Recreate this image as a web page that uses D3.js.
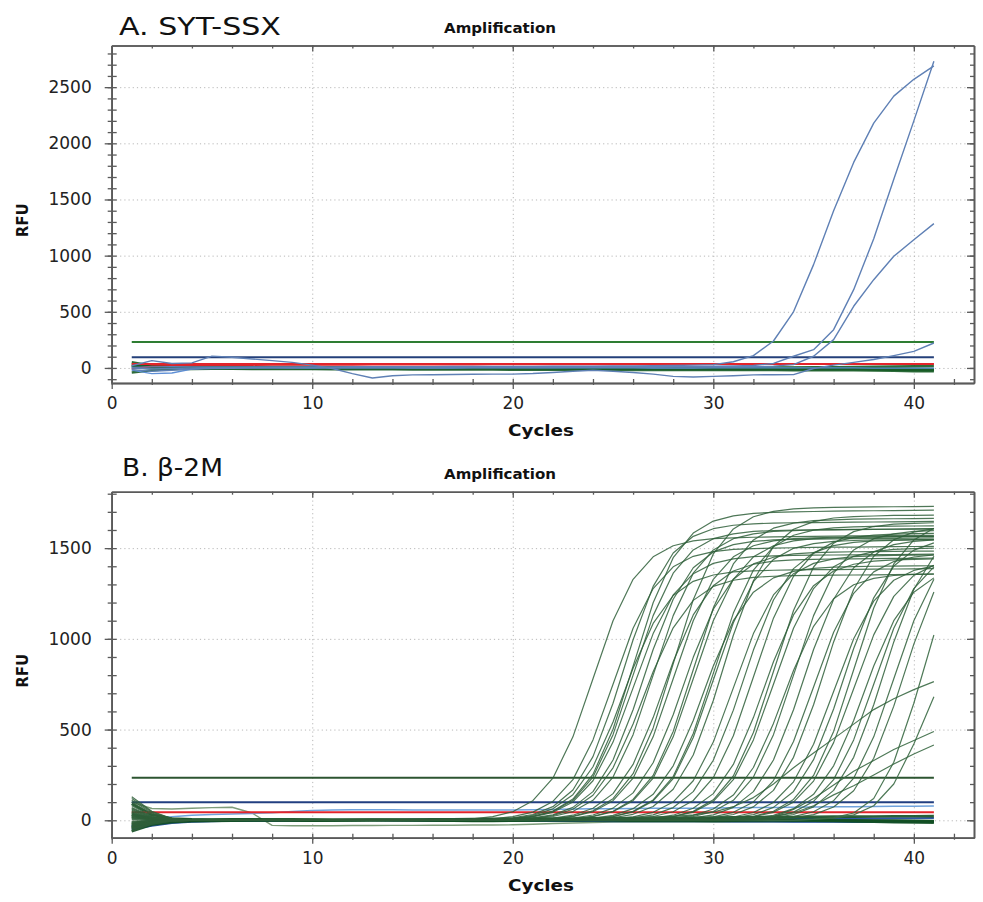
<!DOCTYPE html>
<html><head><meta charset="utf-8">
<script src="https://cdn.jsdelivr.net/npm/d3@7"></script>
<style>body{margin:0;background:#fff}</style>
</head><body>
<svg id="c" width="983" height="902" xmlns="http://www.w3.org/2000/svg"></svg>
<script>
// ---------------- DATA ----------------
const cycles = [1,2,3,4,5,6,7,8,9,10,11,12,13,14,15,16,17,18,19,20,21,22,23,24,25,26,27,28,29,30,31,32,33,34,35,36,37,38,39,40,41];
const xTicks = [0,10,20,30,40];
const sytYTicks = [0,500,1000,1500,2000,2500];
const b2mYTicks = [0,500,1000,1500];

// Panel A: SYT-SSX thresholds and curves
const sytThresholds = [230, 95, 36];
const sytAmp = [
 [5,10,12,10,8,8,9,10,10,10,10,11,11,12,12,12,13,13,13,14,14,15,15,16,17,18,20,22,25,30,55,110,240,500,920,1400,1830,2180,2420,2570,2690],
 [0,-10,-5,0,2,3,4,5,5,5,5,5,6,6,6,6,7,7,7,8,8,8,9,9,10,10,11,12,13,15,18,22,40,104,163,341,697,1150,1680,2200,2730],
 [-15,-30,-20,-10,-5,-3,-2,-1,0,0,1,1,1,2,2,2,3,3,3,4,4,4,5,5,5,6,6,7,8,9,10,12,16,30,104,252,549,786,994,1142,1285],
 [20,65,40,45,105,95,80,65,50,25,-5,-50,-90,-70,-62,-60,-58,-56,-55,-55,-50,-40,-30,-20,-30,-40,-55,-75,-80,-75,-70,-62,-60,-59,-5,25,50,75,110,148,222],
 [-20,-50,-45,-10,0,2,3,3,2,2,1,1,0,0,-1,-1,-1,0,0,0,1,1,1,0,0,0,-1,-1,-1,0,0,0,1,1,1,0,0,-1,-1,-2,-2]
];
const sytBase = [
 [50,20,10,5,3,2,1,0,-1,-2,-3,-4,-5,-5,-4,-3,-2,-1,0,1,2,3,2,1,0,-1,-2,-3,-4,-5,-6,-6,-5,-4,-3,-2,-3,-5,-8,-10,-12],
 [-40,-20,-10,-8,-6,-5,-4,-3,-2,-1,0,1,2,3,3,2,1,0,-1,-2,-3,-4,-5,-6,-5,-4,-3,-2,-1,0,1,2,3,4,5,6,8,10,12,14,15],
 [20,5,0,-3,-5,-7,-8,-9,-10,-10,-11,-11,-12,-12,-13,-13,-14,-14,-14,-15,-15,-15,-16,-16,-16,-17,-17,-17,-17,-18,-18,-18,-18,-19,-19,-19,-20,-22,-25,-28,-30],
 [5,10,15,12,10,9,8,8,7,7,6,6,6,5,5,5,4,4,4,3,3,3,2,2,2,1,1,1,0,0,0,-1,-1,-1,-2,-2,-5,-10,-15,-18,-20],
 [30,15,8,5,4,3,3,2,2,1,1,0,0,-1,-1,-2,-2,-3,-3,-4,-4,-5,-5,-6,-6,-7,-7,-8,-8,-9,-9,-10,-10,-11,-11,-12,-12,-13,-14,-15,-16]
];
const sytRed = [-10,15,20,22,24,25,25,26,26,27,27,27,28,28,28,29,29,29,30,30,30,30,31,31,31,31,32,32,32,32,33,33,33,33,34,34,34,34,35,35,35];

// Panel B: beta-2M thresholds and curves
const b2mThresholds = [235, 100, 44];
const b2mAmp = [
 [60,15,3,0,0,0,0,0,0,0,0,0,0,0,0,0,3,8,20,47,108,232,460,780,1100,1328,1452,1513,1540,1552,1557,1560,1562,1563,1565,1566,1567,1568,1569,1570,1570],
 [-40,-12,-2,0,0,0,0,0,0,0,0,0,0,0,0,0,0,3,8,20,45,104,224,443,750,1058,1277,1397,1455,1481,1493,1497,1500,1502,1504,1505,1506,1507,1508,1509,1510],
 [20,5,0,0,0,0,0,0,0,0,0,0,0,0,0,0,0,2,6,14,32,75,167,351,645,995,1289,1473,1565,1607,1626,1634,1638,1640,1641,1642,1643,1644,1645,1646,1647],
 [-25,-5,0,0,0,0,0,0,0,0,0,0,0,0,0,0,0,2,5,11,27,63,141,295,542,838,1085,1239,1317,1352,1369,1375,1378,1380,1381,1382,1383,1384,1385,1386,1387],
 [110,40,8,0,0,0,0,0,0,0,0,0,0,0,0,0,0,0,3,9,22,51,117,253,502,850,1199,1447,1583,1649,1678,1692,1697,1700,1702,1704,1705,1706,1707,1708,1709],
 [-55,-20,-5,0,0,0,0,0,0,0,0,0,0,0,0,0,0,0,3,7,19,44,101,218,431,730,1029,1242,1359,1416,1441,1453,1457,1460,1461,1462,1463,1464,1465,1466,1467],
 [35,10,2,0,0,0,0,0,0,0,0,0,0,0,0,0,0,0,2,5,13,30,71,158,332,609,941,1218,1392,1479,1519,1537,1545,1548,1550,1551,1552,1553,1554,1555,1556],
 [5,0,0,0,0,0,0,0,0,0,0,0,0,0,0,0,0,0,2,5,11,26,61,138,289,531,819,1061,1212,1289,1323,1339,1345,1348,1350,1351,1352,1353,1354,1355,1356],
 [80,22,4,0,0,0,0,0,0,0,0,0,0,0,0,0,0,0,0,3,8,21,48,110,238,472,800,1128,1362,1490,1552,1579,1592,1597,1600,1601,1602,1603,1604,1605,1606],
 [-30,-8,-1,0,0,0,0,0,0,0,0,0,0,0,0,0,0,0,0,2,5,12,28,66,147,308,566,874,1132,1293,1374,1411,1428,1435,1438,1440,1441,1442,1443,1444,1445],
 [15,4,0,0,0,0,0,0,0,0,0,0,0,0,0,0,0,0,0,0,3,9,22,52,119,257,509,863,1216,1468,1606,1673,1703,1716,1722,1725,1726,1727,1728,1729,1730],
 [-15,-4,0,0,0,0,0,0,0,0,0,0,0,0,0,0,0,0,0,0,3,8,20,47,108,232,460,780,1100,1328,1452,1513,1540,1552,1557,1560,1561,1562,1563,1564,1565],
 [45,12,2,0,0,0,0,0,0,0,0,0,0,0,0,0,0,0,0,0,2,5,12,29,67,151,317,582,898,1163,1329,1413,1450,1468,1475,1478,1480,1481,1482,1483,1484],
 [-45,-14,-3,0,0,0,0,0,0,0,0,0,0,0,0,0,0,0,0,0,0,3,8,22,50,115,247,490,830,1170,1413,1545,1610,1638,1652,1656,1660,1661,1662,1663,1664],
 [25,6,1,0,0,0,0,0,0,0,0,0,0,0,0,0,0,0,0,0,0,2,5,12,27,64,143,300,550,850,1100,1257,1336,1372,1388,1395,1398,1400,1401,1402,1403],
 [130,50,10,0,0,0,0,0,0,0,0,0,0,0,0,0,0,0,0,0,0,0,3,8,21,49,112,241,478,810,1142,1379,1508,1571,1599,1612,1617,1620,1621,1622,1623],
 [-60,-22,-5,0,0,0,0,0,0,0,0,0,0,0,0,0,0,0,0,0,0,0,3,8,20,46,107,230,456,773,1089,1315,1438,1499,1525,1537,1542,1545,1546,1547,1548],
 [10,2,0,0,0,0,0,0,0,0,0,0,0,0,0,0,0,0,0,0,0,0,3,6,14,33,76,171,360,660,1020,1320,1509,1604,1646,1666,1674,1677,1680,1681,1682],
 [-20,-5,0,0,0,0,0,0,0,0,0,0,0,0,0,0,0,0,0,0,0,0,0,3,7,19,44,101,218,431,730,1029,1242,1359,1416,1441,1453,1457,1460,1461,1462],
 [55,14,3,0,0,0,0,0,0,0,0,0,0,0,0,0,0,0,0,0,0,0,0,0,3,8,21,47,109,235,466,790,1114,1345,1471,1533,1559,1572,1577,1580,1581],
 [-35,-10,-2,0,0,0,0,0,0,0,0,0,0,0,0,0,0,0,0,0,0,0,0,0,2,5,12,28,66,147,308,566,874,1132,1293,1374,1411,1428,1435,1438,1440],
 [90,30,6,0,0,0,0,0,0,0,0,0,0,0,0,0,0,0,0,0,0,0,0,0,0,3,8,21,49,113,244,484,820,1156,1396,1527,1591,1619,1632,1636,1640],
 [-10,-2,0,0,0,0,0,0,0,0,0,0,0,0,0,0,0,0,0,0,0,0,0,0,0,2,5,11,27,62,139,291,534,826,1069,1221,1298,1333,1349,1355,1358],
 [40,10,2,0,0,0,0,0,0,0,0,0,0,0,0,0,0,0,0,0,0,0,0,0,0,0,3,8,21,48,110,238,472,800,1128,1362,1490,1552,1579,1592,1597],
 [-50,-16,-4,0,0,0,0,0,0,0,0,0,0,0,0,0,0,0,0,0,0,0,0,0,0,0,2,5,13,30,71,158,332,609,941,1218,1392,1479,1519,1537,1545],
 [70,20,4,0,0,0,0,0,0,0,0,0,0,0,0,0,0,0,0,0,0,0,0,0,0,0,0,3,7,19,44,101,219,434,735,1036,1251,1369,1426,1451,1463],
 [-5,0,0,0,0,0,0,0,0,0,0,0,0,0,0,0,0,0,0,0,0,0,0,0,0,0,0,2,6,13,32,74,165,347,637,983,1273,1455,1546,1588,1607],
 [30,8,1,0,0,0,0,0,0,0,0,0,0,0,0,0,0,0,0,0,0,0,0,0,0,0,0,0,3,7,18,43,98,212,419,710,1001,1208,1323,1377,1402],
 [-40,-12,-3,0,0,0,0,0,0,0,0,0,0,0,0,0,0,0,0,0,0,0,0,0,0,0,0,0,2,5,13,31,71,159,334,613,947,1226,1401,1489,1529],
 [100,35,7,0,0,0,0,0,0,0,0,0,0,0,0,0,0,0,0,0,0,0,0,0,0,0,0,0,0,3,8,22,50,115,247,490,830,1170,1413,1545,1610],
 [-25,-6,-1,0,0,0,0,0,0,0,0,0,0,0,0,0,0,0,0,0,0,0,0,0,0,0,0,0,0,2,5,12,27,64,143,300,550,850,1100,1257,1336],
 [20,5,1,0,0,0,0,0,0,0,0,0,0,0,0,0,0,0,0,0,0,0,0,0,0,0,0,0,0,0,3,8,20,45,104,224,443,750,1058,1277,1397],
 [-45,-15,-3,0,0,0,0,0,0,0,0,0,0,0,0,0,0,0,0,0,0,0,0,0,0,0,0,0,0,0,2,6,13,32,74,165,347,637,983,1273,1455],
 [65,18,4,0,0,0,0,0,0,0,0,0,0,0,0,0,0,0,0,0,0,0,0,0,0,0,0,0,0,0,0,3,8,20,47,108,232,460,780,1100,1328],
 [-15,-3,0,0,0,0,0,0,0,0,0,0,0,0,0,0,0,0,0,0,0,0,0,0,0,0,0,0,0,0,0,2,6,13,31,73,163,342,629,971,1258],
 [50,12,2,0,0,0,0,0,0,0,0,0,0,0,0,0,0,0,3,8,21,48,110,238,472,800,1128,1362,1490,1552,1579,1592,1597,1600,1601,1602,1603,1604,1605,1606,1607],
 [-30,-9,-2,0,0,0,0,0,0,0,0,0,0,0,0,0,0,0,0,0,0,0,0,2,5,13,30,70,158,331,607,938,1214,1387,1475,1514,1532,1540,1543,1545,1546],
 [120,45,9,0,0,0,0,0,0,0,0,0,0,0,0,0,0,0,0,0,0,0,0,0,0,3,8,20,45,104,224,443,750,1058,1277,1397,1455,1481,1493,1497,1500],
 [-35,-11,-2,0,0,0,0,0,0,0,0,0,0,0,0,0,0,0,0,0,0,0,0,0,0,0,0,0,0,3,7,19,44,100,216,428,725,1022,1234,1350,1406],
 [15,3,0,0,0,0,0,0,0,0,0,0,0,0,0,0,0,0,0,0,0,3,8,20,47,108,232,460,780,1100,1328,1452,1513,1540,1552,1557,1560,1561,1562,1563,1564]
];
const b2mLow = [
 [-20,-6,-1,0,0,0,0,0,0,0,0,0,0,0,0,0,0,0,0,0,2,4,6,8,10,13,17,22,30,45,75,125,200,290,371,450,530,610,670,720,764],
 [40,10,2,0,0,0,0,0,0,0,0,0,0,0,0,0,0,0,0,0,0,0,0,0,0,0,0,0,0,0,0,0,0,0,5,12,30,80,200,420,681],
 [-10,-3,0,0,0,0,0,0,0,0,0,0,0,0,0,0,0,0,0,0,0,0,0,0,0,0,0,0,0,0,0,0,0,0,6,15,40,120,320,645,1021],
 [25,6,1,0,0,0,0,0,0,0,0,0,0,0,0,0,0,0,0,0,0,0,0,0,0,0,0,0,0,3,6,12,20,60,120,195,270,330,390,440,489],
 [-20,-5,0,0,0,0,0,0,0,0,0,0,0,0,0,0,0,0,0,0,0,0,0,0,0,0,0,0,0,0,4,10,20,40,80,140,190,250,310,365,415]
];
const b2mBase = [
 [-40,-15,-5,-2,0,1,2,1,0,-1,0,1,2,2,1,0,-1,-2,-1,0,1,2,3,3,2,1,0,-1,-2,-3,-2,-1,0,1,2,1,0,-1,-2,-3,-4],
 [90,30,10,5,3,2,1,0,-1,-2,-2,-1,0,1,1,0,-1,-1,0,1,2,2,1,0,-1,-2,-2,-1,0,1,2,3,2,1,0,-1,-2,-3,-4,-5,-6],
 [-60,-25,-10,-5,-3,-2,-1,0,1,2,3,3,2,1,0,-1,-2,-3,-3,-2,-1,0,1,2,3,4,5,5,4,3,2,1,0,-1,-2,-4,-6,-8,-10,-12,-14],
 [30,10,5,3,4,5,6,6,5,4,3,2,2,3,4,5,6,7,8,8,9,10,10,11,12,12,13,14,14,15,16,17,18,18,19,20,20,21,22,22,23]
];
const b2mBlue = [
 [-50,-30,-15,-8,-5,-3,-2,-1,0,0,1,1,2,2,3,3,3,4,4,4,5,5,5,6,6,6,7,7,7,8,8,8,9,9,9,10,10,10,11,11,12],
 [-30,-20,-10,-6,-4,-3,-2,-2,-1,-1,0,0,0,-1,-1,-2,-2,-2,-3,-3,-3,-4,-4,-4,-5,-5,-5,-6,-6,-6,-7,-7,-7,-8,-8,-8,-9,-9,-9,-10,-10]
];
const b2mDrift = [100,65,62,66,70,72,40,-28,-30,-30,-30,-29,-29,-28,-28,-27,-27,-26,-26,-25,-22,-18,-15,-12,-10,-10,-10,-10,-10,-10,-10,-10,-10,-10,-10,-10,-10,-10,-10,-10,-10];
const b2mLightBlue = [-30,5,20,28,32,35,38,42,48,54,57,58,58,58,57,57,56,56,56,57,58,60,62,63,64,65,66,66,67,68,69,70,71,72,73,74,75,76,77,78,79];

// ---------------- DRAW ----------------
const svg = d3.select("#c");
const FONT = "DejaVu Sans, Liberation Sans, Arial, sans-serif";

function panel(cfg) {
  const x = d3.scaleLinear().domain([0, 43]).range([111.7, 974]);
  const y = d3.scaleLinear().domain(cfg.yDomain).range([cfg.bottom, cfg.top]);
  const g = svg.append("g");
  const W = 974 - 111.7, H = cfg.bottom - cfg.top;

  // grid
  g.append("g").attr("transform", `translate(0,${cfg.bottom})`)
    .call(d3.axisBottom(x).tickValues([10,20,30,40]).tickSize(-H).tickFormat(""))
    .call(s => s.select(".domain").remove())
    .selectAll("line").attr("stroke", "#b8b8b8").attr("stroke-dasharray", "1.2,3");
  g.append("g").attr("transform", `translate(111.7,0)`)
    .call(d3.axisLeft(y).tickValues(cfg.yTicks).tickSize(-W).tickFormat(""))
    .call(s => s.select(".domain").remove())
    .selectAll("line").attr("stroke", "#b8b8b8").attr("stroke-dasharray", "1.2,3");

  const line = d3.line().x((d, i) => x(cycles[i])).y(d => y(d));
  const clip = "clip" + cfg.id;
  svg.append("clipPath").attr("id", clip).append("rect")
    .attr("x", 111.7).attr("y", cfg.top).attr("width", W).attr("height", H);
  const plot = g.append("g").attr("clip-path", `url(#${clip})`);

  cfg.layers.forEach(L => {
    plot.append("g").selectAll("path").data(L.data).join("path")
      .attr("d", line).attr("fill", "none")
      .attr("stroke", L.color).attr("stroke-width", L.width)
      .attr("stroke-opacity", L.opacity || 1).attr("stroke-linejoin", "round");
  });

  // frame axes
  const axColor = "#5a5a5a";
  const minorY = d3.range(cfg.yMinor[0], cfg.yMinor[1] + 1, 100);
  const minorX = [0,2,4,6,8,10,12,14,16,18,20,22,24,26,28,30,32,34,36,38,40,42];
  const fmt = d3.format("d");
  function style(sel) {
    sel.select(".domain").attr("stroke", axColor).attr("stroke-width", 1.6);
    sel.selectAll(".tick line").attr("stroke", axColor).attr("stroke-width", 1.3);
    sel.selectAll("text").attr("font-family", FONT).attr("font-size", 17).attr("fill", "#222");
  }
  // top
  g.append("g").attr("transform", `translate(0,${cfg.top})`)
    .call(d3.axisTop(x).tickValues(minorX).tickSizeInner(-3).tickSizeOuter(0).tickFormat("")).call(style);
  g.append("g").attr("transform", `translate(0,${cfg.top})`)
    .call(d3.axisTop(x).tickValues([10,20,30,40]).tickSizeInner(-6).tickSizeOuter(0).tickFormat("")).call(style);
  // right
  g.append("g").attr("transform", `translate(974,0)`)
    .call(d3.axisRight(y).tickValues(minorY).tickSizeInner(-4).tickSizeOuter(0).tickFormat("")).call(style);
  g.append("g").attr("transform", `translate(974,0)`)
    .call(d3.axisRight(y).tickValues(cfg.yTicks).tickSizeInner(-7).tickSizeOuter(0).tickFormat("")).call(style);
  // left
  g.append("g").attr("transform", `translate(111.7,0)`)
    .call(d3.axisRight(y).tickValues(minorY).tickSizeInner(5).tickSizeOuter(0).tickFormat("")).call(style);
  g.append("g").attr("transform", `translate(111.7,0)`)
    .call(d3.axisLeft(y).tickValues(minorY).tickSizeInner(4).tickSizeOuter(0).tickFormat("")).call(style);
  g.append("g").attr("transform", `translate(111.7,0)`)
    .call(d3.axisLeft(y).tickValues(cfg.yTicks).tickSizeInner(7).tickSizeOuter(0).tickPadding(13).tickFormat(fmt)).call(style);
  // bottom
  g.append("g").attr("transform", `translate(0,${cfg.bottom})`)
    .call(d3.axisTop(x).tickValues(minorX).tickSizeInner(4).tickSizeOuter(0).tickFormat("")).call(style);
  g.append("g").attr("transform", `translate(0,${cfg.bottom})`)
    .call(d3.axisBottom(x).tickValues(minorX).tickSizeInner(2).tickSizeOuter(0).tickFormat("")).call(style);
  g.append("g").attr("transform", `translate(0,${cfg.bottom})`)
    .call(d3.axisBottom(x).tickValues(xTicks).tickSizeInner(6).tickSizeOuter(0).tickPadding(8).tickFormat(fmt)).call(style);

  // texts
  g.append("text").attr("x", cfg.titleX).attr("y", cfg.titleY).text(cfg.title)
    .attr("font-family", FONT).attr("font-size", 24).attr("fill", "#111")
    .attr("textLength", cfg.titleLen).attr("lengthAdjust", "spacingAndGlyphs");
  g.append("text").attr("x", 500).attr("y", cfg.top - 12.5).text("Amplification")
    .attr("text-anchor", "middle").attr("font-family", FONT).attr("font-weight", "bold")
    .attr("font-size", 14).attr("fill", "#111")
    .attr("textLength", 112).attr("lengthAdjust", "spacingAndGlyphs");
  g.append("text").attr("x", 541).attr("y", cfg.bottom + 53).text("Cycles")
    .attr("text-anchor", "middle").attr("font-family", FONT).attr("font-weight", "bold")
    .attr("font-size", 15).attr("fill", "#111")
    .attr("textLength", 66).attr("lengthAdjust", "spacingAndGlyphs");
  g.append("text").attr("transform", `translate(28,${(cfg.top + cfg.bottom) / 2 + 6}) rotate(-90)`)
    .text("RFU").attr("text-anchor", "middle").attr("font-family", FONT).attr("font-weight", "bold")
    .attr("font-size", 16).attr("fill", "#111")
    .attr("textLength", 34).attr("lengthAdjust", "spacingAndGlyphs");
}

function hLine(v) { return cycles.map(() => v); }

panel({
  id: "A", title: "A. SYT-SSX", titleX: 119, titleY: 35, titleLen: 162,
  yDomain: [-134, 2871], top: 45.5, bottom: 383, yTicks: sytYTicks, yMinor: [-100, 2800],
  layers: [
    { data: sytBase, color: "#175c26", width: 2.6, opacity: 0.9 },
    { data: [sytRed], color: "#d8262c", width: 1.5 },
    { data: [hLine(sytThresholds[0])], color: "#2e7d32", width: 2 },
    { data: [hLine(sytThresholds[1])], color: "#24407a", width: 2 },
    { data: [hLine(sytThresholds[2])], color: "#e3242b", width: 2 },
    { data: [sytAmp[4]], color: "#5e8fd6", width: 1.3 },
    { data: sytAmp.slice(0, 4), color: "#5f80b5", width: 1.4 }
  ]
});

panel({
  id: "B", title: "B. β-2M", titleX: 122, titleY: 476, titleLen: 101,
  yDomain: [-96, 1811], top: 491.7, bottom: 837.7, yTicks: b2mYTicks, yMinor: [0, 1800],
  layers: [
    { data: [b2mDrift], color: "#7e9c7a", width: 1.4 },
    { data: [b2mLightBlue], color: "#6fa2dc", width: 1.5 },
    { data: b2mBlue, color: "#2f57a8", width: 2 },
    { data: b2mBase, color: "#124f22", width: 2.6, opacity: 0.9 },
    { data: [hLine(b2mThresholds[0])], color: "#2c5531", width: 2 },
    { data: [hLine(b2mThresholds[1])], color: "#223f80", width: 2 },
    { data: [hLine(b2mThresholds[2])], color: "#e3242b", width: 2 },
    { data: b2mLow, color: "#3b6a45", width: 1.2, opacity: 0.9 },
    { data: b2mAmp, color: "#2f5f3a", width: 1.2, opacity: 0.85 }
  ]
});
</script>
</body></html>
